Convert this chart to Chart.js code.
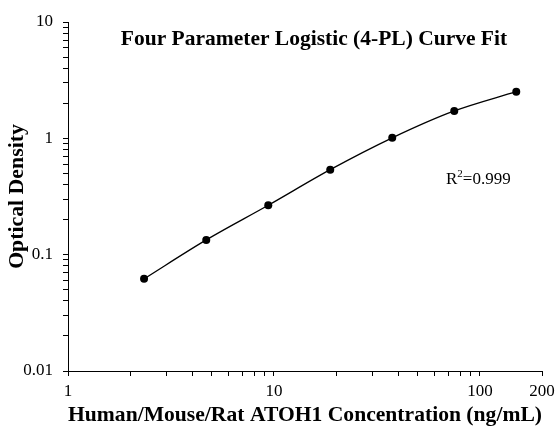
<!DOCTYPE html>
<html>
<head>
<meta charset="utf-8">
<script src="https://cdn.jsdelivr.net/npm/chart.js@4"></script>
<style>
  html, body { margin: 0; padding: 0; background: #fff; }
  #wrap { width: 556px; height: 428px; }
</style>
</head>
<body>
<div id="wrap"><canvas id="curveChart" width="556" height="428"></canvas></div>
<script>
// Standard curve data (ng/mL vs OD)
const concentrations = [2.34, 4.69, 9.38, 18.75, 37.5, 75, 150];
const odValues = [0.062, 0.134, 0.266, 0.538, 1.01, 1.72, 2.52];

// Axis ticks
const xTickValues = [1, 2, 3, 4, 5, 6, 7, 8, 9, 10, 20, 30, 40, 50, 60, 70, 80, 90, 100, 200];
const xTickLabels = [1, 10, 100, 200];
const yTickValues = [0.01, 0.02, 0.03, 0.04, 0.05, 0.06, 0.07, 0.08, 0.09,
  0.1, 0.2, 0.3, 0.4, 0.5, 0.6, 0.7, 0.8, 0.9,
  1, 2, 3, 4, 5, 6, 7, 8, 9, 10];
const yTickLabels = [0.01, 0.1, 1, 10];

const chartTitle = "Four Parameter Logistic (4-PL) Curve Fit";
const xTitle = "Human/Mouse/Rat ATOH1 Concentration (ng/mL)";
const yTitle = "Optical Density";
const rSquared = "0.999";

const serif = '"Liberation Serif", "Times New Roman", serif';

// Title + R² drawn on top of plot area
const textPlugin = {
  id: "curveText",
  afterDraw(chart) {
    const { ctx } = chart;
    ctx.save();
    ctx.fillStyle = "#000";
    ctx.textBaseline = "alphabetic";

    ctx.font = "bold 21.5px " + serif;
    ctx.textAlign = "center";
    ctx.fillText(chartTitle, 314, 45);

    // R² with superscript
    ctx.textAlign = "left";
    let x = 446;
    const y = 184;
    ctx.font = "17px " + serif;
    ctx.fillText("R", x, y);
    x += ctx.measureText("R").width;
    ctx.font = "11px " + serif;
    ctx.fillText("2", x, y - 7);
    x += ctx.measureText("2").width;
    ctx.font = "17px " + serif;
    ctx.fillText("=" + rSquared, x, y);
    ctx.restore();
  }
};

const axisBase = {
  type: "logarithmic",
  border: { display: true, color: "#000", width: 1 },
  grid: {
    display: true,
    drawOnChartArea: false,
    drawTicks: true,
    tickLength: 5,
    color: "#000",
    lineWidth: 1
  }
};

const ctx = document.getElementById("curveChart");

new Chart(ctx, {
  type: "line",
  data: {
    datasets: [{
      data: concentrations.map((c, i) => ({ x: c, y: odValues[i] })),
      borderColor: "#000",
      backgroundColor: "#000",
      borderWidth: 1.3,
      pointRadius: 4,
      pointHoverRadius: 4,
      pointBackgroundColor: "#000",
      pointBorderWidth: 0,
      cubicInterpolationMode: "monotone",
      fill: false
    }]
  },
  options: {
    responsive: false,
    animation: false,
    events: [],
    layout: { padding: { top: 22, right: 14, left: 0, bottom: 0 } },
    plugins: {
      legend: { display: false },
      tooltip: { enabled: false }
    },
    scales: {
      x: {
        ...axisBase,
        position: "bottom",
        min: 1,
        max: 200,
        afterBuildTicks: scale => {
          scale.ticks = xTickValues.map(v => ({ value: v }));
        },
        afterFit: scale => {
          scale.height = 57;
          scale.paddingLeft = 0;
          scale.paddingRight = 0;
        },
        ticks: {
          autoSkip: false,
          maxRotation: 0,
          padding: 5,
          color: "#000",
          font: { family: serif, size: 17 },
          callback: v => (xTickLabels.includes(v) ? String(v) : "")
        },
        title: {
          display: true,
          text: xTitle,
          color: "#000",
          font: { family: serif, size: 21.8, weight: "bold" },
          padding: { top: 0, bottom: 0 }
        }
      },
      y: {
        ...axisBase,
        position: "left",
        min: 0.01,
        max: 10,
        afterBuildTicks: scale => {
          scale.ticks = yTickValues.map(v => ({ value: v }));
        },
        afterFit: scale => {
          scale.width = 68;
          scale.paddingTop = 0;
          scale.paddingBottom = 0;
        },
        ticks: {
          autoSkip: false,
          padding: 10,
          color: "#000",
          font: { family: serif, size: 17 },
          callback: v => (yTickLabels.includes(v) ? String(v) : "")
        },
        title: {
          display: true,
          text: yTitle,
          color: "#000",
          font: { family: serif, size: 21.8, weight: "bold" },
          padding: { top: 4, bottom: 0 }
        }
      }
    }
  },
  plugins: [textPlugin]
});
</script>
</body>
</html>
